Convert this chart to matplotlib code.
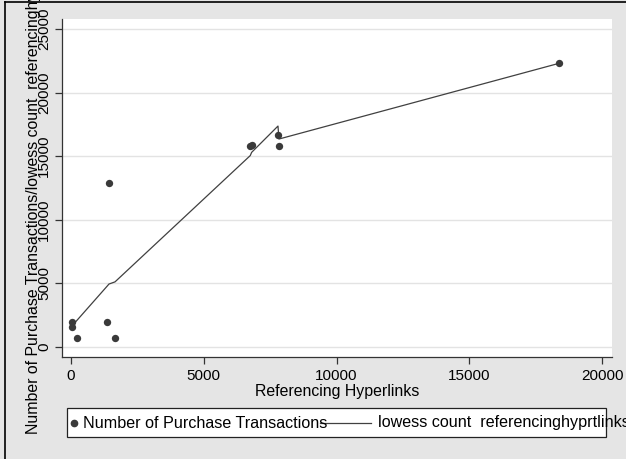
import matplotlib
matplotlib.use("Agg")
import matplotlib.pyplot as plt
from matplotlib.lines import Line2D
from matplotlib.patches import Rectangle

plt.rcParams['font.family'] = ['Liberation Sans', 'DejaVu Sans']

# Data
ref_links = [30, 40, 226, 1355, 1430, 1657, 6750, 6800, 7793, 7830, 18373]
purchases = [1965, 1600, 700, 1965, 12900, 700, 15800, 15850, 16670, 15800, 22300]
lowess_fit = [1650, 1650, 2100, 4770, 4950, 5120, 15050, 15300, 17370, 16350, 22300]

x_ticks = [0, 5000, 10000, 15000, 20000]
y_ticks = [0, 5000, 10000, 15000, 20000, 25000]

xlabel = "Referencing Hyperlinks"
ylabel = "Number of Purchase Transactions/lowess count  referencinghyprtlinks"
legend_labels = ["Number of Purchase Transactions", "lowess count  referencinghyprtlinks"]

W, H = 626, 459
bg = "#e5e5e5"
dark = "#3a3a3a"

fig = plt.figure(figsize=(W / 100, H / 100), dpi=100, facecolor=bg)

# outer frame (left and top)
fig.add_artist(Line2D([5 / W, 5 / W], [0, 1 - 2 / H], color="black", lw=1.2, transform=fig.transFigure))
fig.add_artist(Line2D([5 / W, 1], [1 - 2 / H, 1 - 2 / H], color="black", lw=1.2, transform=fig.transFigure))

left, right, top, bottom = 62, 612, 19, 357
ax = fig.add_axes([left / W, 1 - bottom / H, (right - left) / W, (bottom - top) / H])
ax.set_facecolor("white")

ax.set_xlim(-339, 20369)
ax.set_ylim(-786, 25786)

ax.set_yticks(y_ticks)
ax.set_xticks(x_ticks)
ax.grid(axis="y", color="#e3e3e3", lw=1.0)
ax.set_axisbelow(True)

for s in ["top", "right"]:
    ax.spines[s].set_visible(False)
for s in ["left", "bottom"]:
    ax.spines[s].set_color("#333333")
    ax.spines[s].set_linewidth(0.9)

ax.tick_params(axis="both", direction="out", length=5, width=0.9, color="#333333", labelsize=11)
ax.tick_params(axis="x", pad=4)
ax.tick_params(axis="y", pad=3)
for lab in ax.get_yticklabels():
    lab.set_rotation(90)
    lab.set_va("center")

ax.plot(ref_links, lowess_fit, color="#404040", lw=0.9, zorder=2)
ax.scatter(ref_links, purchases, s=28, color=dark, zorder=3, linewidths=0)

ax.set_xlabel(xlabel, fontsize=11.4)
ax.xaxis.set_label_coords(0.5, -(384 - bottom) / (bottom - top))
ax.set_ylabel(ylabel, fontsize=11.4)
ax.yaxis.set_label_coords(-(left - 41) / (right - left), 0.5)

# legend box
lx0, lx1, ly0, ly1 = 67, 606, 408, 437
fig.add_artist(Rectangle((lx0 / W, 1 - ly1 / H), (lx1 - lx0) / W, (ly1 - ly0) / H,
                         transform=fig.transFigure, facecolor="white", edgecolor="#222222", lw=0.9, zorder=1))
yc = 1 - 423 / H
fig.add_artist(Line2D([74 / W], [yc], marker="o", markersize=4.5, color=dark, lw=0,
                      transform=fig.transFigure, zorder=3))
fig.text(83 / W, yc, legend_labels[0], fontsize=11.6, va="center", ha="left", zorder=3)
fig.add_artist(Line2D([320 / W, 371 / W], [yc, yc], color="#404040", lw=0.9,
                      transform=fig.transFigure, zorder=2))
fig.text(378 / W, yc, legend_labels[1], fontsize=11.6, va="center", ha="left", zorder=3)

fig.savefig("out.png", dpi=100, facecolor=bg)
